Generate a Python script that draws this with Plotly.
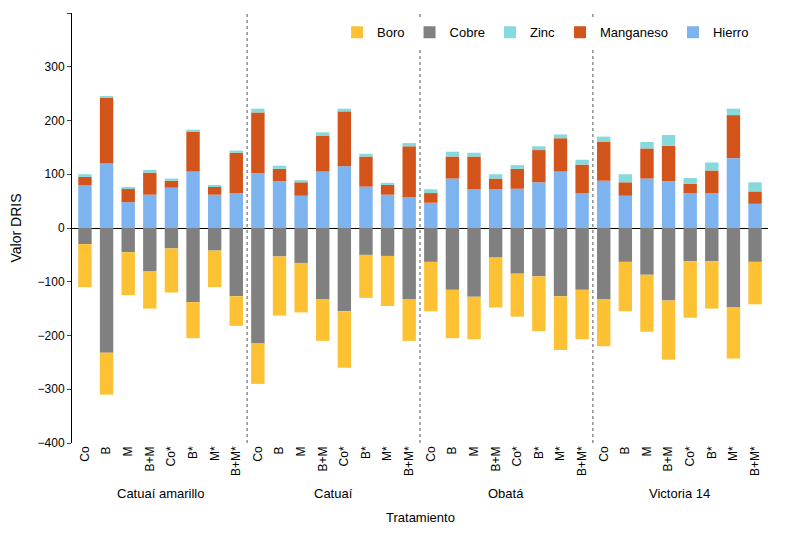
import plotly.graph_objects as go

grupos = ["Catuaí amarillo", "Catuaí", "Obatá", "Victoria 14"]
tratamientos = ["Co", "B", "M", "B+M", "Co*", "B*", "M*", "B+M*"]

# segment values (stacked), one entry per bar, groups in order
hierro = [80, 120, 48, 62, 75, 105, 62, 65,
          102, 87, 60, 105, 115, 77, 62, 57,
          47, 92, 72, 72, 73, 85, 105, 65,
          88, 60, 92, 87, 65, 65, 130, 45]
manganeso = [15, 122, 25, 41, 13, 75, 15, 75,
             113, 23, 25, 67, 102, 56, 18, 95,
             18, 41, 61, 20, 37, 60, 62, 53,
             72, 25, 56, 66, 17, 42, 80, 23]
zinc = [5, 3, 2, 5, 4, 3, 3, 4,
        7, 6, 4, 6, 5, 5, 4, 6,
        7, 9, 7, 8, 7, 7, 7, 9,
        10, 15, 12, 20, 11, 15, 12, 17]
cobre = [-30, -232, -45, -80, -38, -138, -42, -127,
         -215, -53, -65, -133, -155, -50, -52, -133,
         -63, -115, -128, -55, -85, -90, -127, -115,
         -133, -63, -87, -135, -62, -62, -148, -63]
boro = [-80, -78, -80, -70, -82, -67, -68, -55,
        -75, -110, -92, -77, -105, -80, -93, -77,
        -92, -90, -79, -93, -80, -102, -100, -92,
        -87, -92, -106, -110, -105, -88, -95, -79]

n_t = len(tratamientos)
x = list(range(len(grupos) * n_t))
ticktext = tratamientos * len(grupos)

fig = go.Figure()
series = [("Hierro", hierro, "#7DB3EE"), ("Manganeso", manganeso, "#D2541B"),
          ("Zinc", zinc, "#86D9DC"), ("Cobre", cobre, "#808080"),
          ("Boro", boro, "#FDC233")]
for name, vals, col in series:
    fig.add_trace(go.Bar(x=x, y=vals, name=name, marker_color=col,
                         marker_line_width=0, width=0.62))

for g in range(1, len(grupos)):
    fig.add_shape(type="line", xref="x", yref="paper", x0=g * n_t - 0.5, x1=g * n_t - 0.5,
                  y0=0, y1=1, line=dict(color="#555", width=1, dash="dot"))
for g, name in enumerate(grupos):
    fig.add_annotation(x=g * n_t + (n_t - 1) / 2, y=-0.14, xref="x", yref="paper",
                       text=name, showarrow=False, font=dict(size=13, color="black"))
fig.add_annotation(x=0.5, y=-0.195, xref="paper", yref="paper", text="Tratamiento",
                   showarrow=False, font=dict(size=13, color="black"))

fig.update_layout(
    barmode="relative",
    width=800, height=537,
    plot_bgcolor="white", paper_bgcolor="white",
    font=dict(family="Liberation Sans, Arial", size=12, color="black"),
    margin=dict(l=48, r=40, t=5, b=102),
    legend=dict(orientation="h", x=0.98, xanchor="right", y=0.99, yanchor="top",
                traceorder="reversed", font=dict(size=13), itemwidth=30),
    bargap=0.3,
)
fig.update_xaxes(tickmode="array", tickvals=x, ticktext=ticktext, tickangle=-90,
                 range=[-0.6, len(x) - 0.4], showline=False, ticks="", showgrid=False)
fig.update_yaxes(range=[-400, 400], dtick=100, showgrid=False, showline=True,
                 linecolor="black", ticks="outside", ticklen=4, zeroline=True,
                 zerolinecolor="black", zerolinewidth=1, title_text="Valor DRIS")

fig.write_html("out.html")
